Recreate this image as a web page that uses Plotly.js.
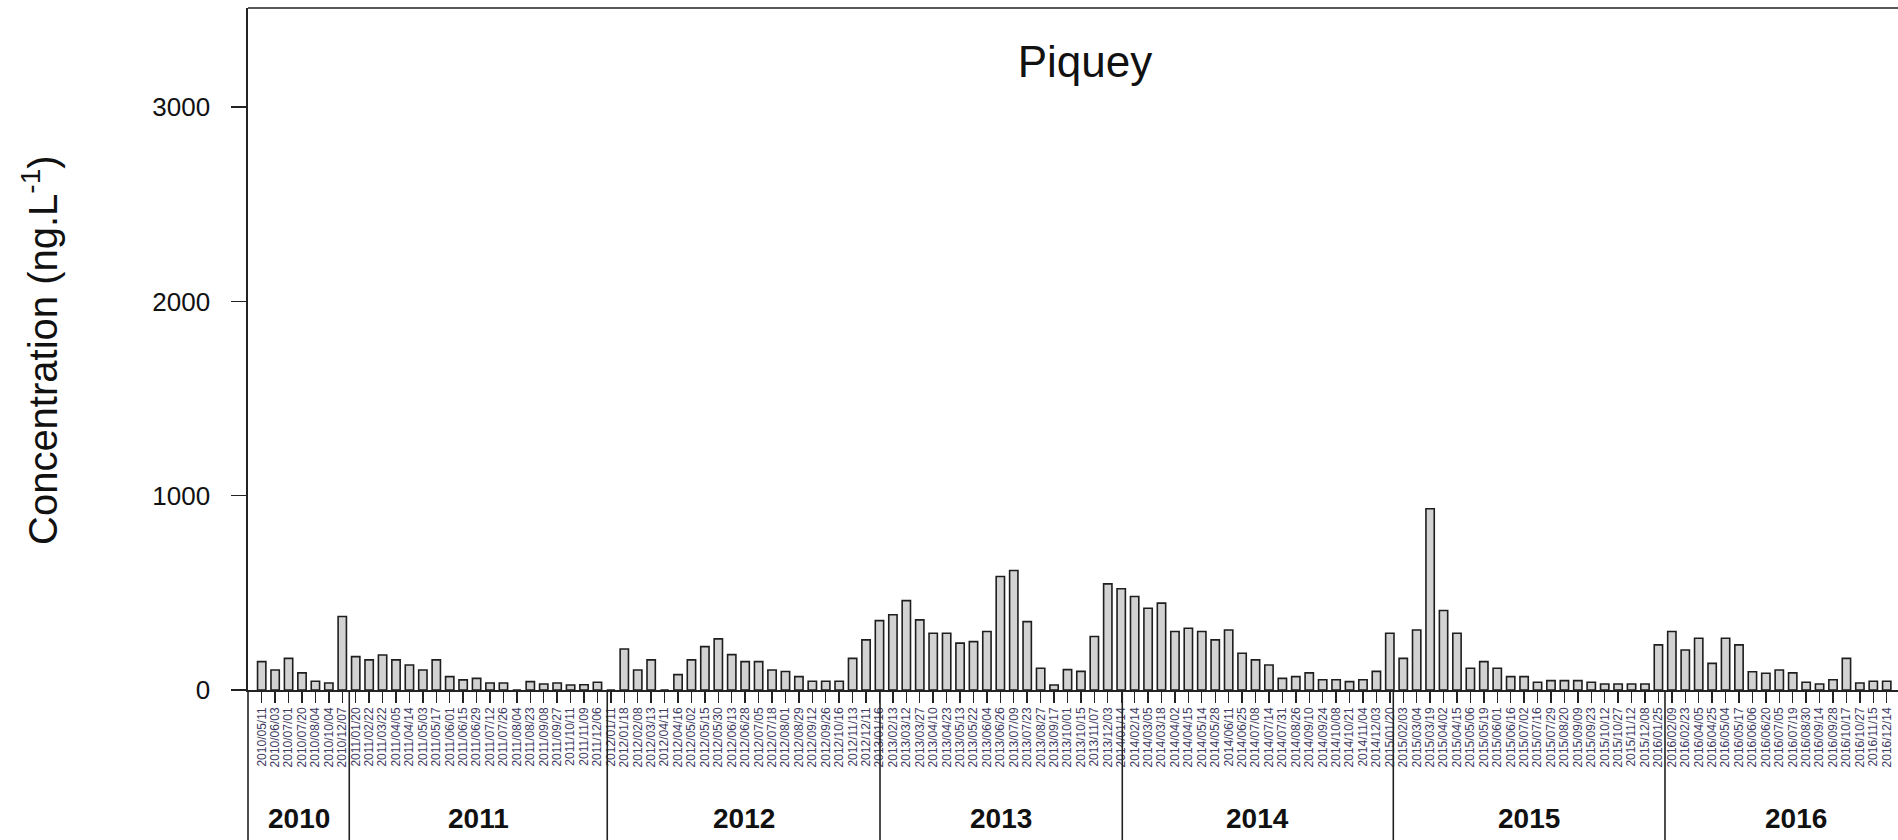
<!DOCTYPE html>
<html>
<head>
<meta charset="utf-8">
<script src="https://cdn.plot.ly/plotly-3.0.1.min.js"></script>
<style>html,body{margin:0;padding:0;background:#fff;}#chart{width:1898px;height:840px;}</style>
</head>
<body>
<div id="chart"></div>
<script>
// ---- data ----
const sampleDates = [
'2010/05/11','2010/06/03','2010/07/01','2010/07/20','2010/08/04','2010/10/04','2010/12/07',
'2011/01/20','2011/02/22','2011/03/22','2011/04/05','2011/04/14','2011/05/03','2011/05/17','2011/06/01','2011/06/15','2011/06/29','2011/07/12','2011/07/26','2011/08/04','2011/08/23','2011/09/08','2011/09/27','2011/10/11','2011/11/09','2011/12/06',
'2012/01/11','2012/01/18','2012/02/08','2012/03/13','2012/04/11','2012/04/16','2012/05/02','2012/05/15','2012/05/30','2012/06/13','2012/06/28','2012/07/05','2012/07/18','2012/08/01','2012/08/29','2012/09/12','2012/09/26','2012/10/16','2012/11/13','2012/12/11',
'2013/01/16','2013/02/13','2013/03/12','2013/03/27','2013/04/10','2013/04/23','2013/05/13','2013/05/22','2013/06/04','2013/06/26','2013/07/09','2013/07/23','2013/08/27','2013/09/17','2013/10/01','2013/10/15','2013/11/07','2013/12/03',
'2014/01/14','2014/02/14','2014/03/05','2014/03/18','2014/04/02','2014/04/15','2014/05/14','2014/05/28','2014/06/11','2014/06/25','2014/07/08','2014/07/14','2014/07/31','2014/08/26','2014/09/10','2014/09/24','2014/10/08','2014/10/21','2014/11/04','2014/12/03',
'2015/01/20','2015/02/03','2015/03/04','2015/03/19','2015/04/02','2015/04/15','2015/05/06','2015/05/19','2015/06/01','2015/06/16','2015/07/02','2015/07/16','2015/07/29','2015/08/20','2015/09/09','2015/09/23','2015/10/12','2015/10/27','2015/11/12','2015/12/08',
'2016/01/25','2016/02/09','2016/02/23','2016/04/05','2016/04/25','2016/05/04','2016/05/17','2016/06/06','2016/06/20','2016/07/05','2016/07/19','2016/08/30','2016/09/14','2016/09/28','2016/10/17','2016/10/27','2016/11/15','2016/12/14'
];
const values2010 = [146,103,163,88,45,36,378];
const values2011 = [172,155,180,155,129,103,155,69,52,60,36,36,0,43,31,36,26,27,40];
const values2012 = [0,211,103,155,0,79,155,223,263,182,146,146,103,95,69,45,45,45,163,258];
const values2013 = [357,387,460,361,292,292,241,249,301,584,615,352,112,26,105,96,275,546];
const values2014 = [521,481,421,447,301,318,301,258,309,189,155,129,60,69,88,53,53,43,53,96];
const values2015 = [292,163,309,933,409,292,112,146,112,69,69,40,48,48,48,40,31,31,31,31];
const values2016 = [232,301,206,266,137,266,232,94,86,103,88,40,31,53,163,36,45,45];
const years = ['2010','2011','2012','2013','2014','2015','2016'];
const yTicks = [0,1000,2000,3000];

const concentration = [].concat(values2010,values2011,values2012,values2013,values2014,values2015,values2016);

// ---- layout helpers ----
const xRange = [-1.02, 121.84];
const yearBounds = [-1.02, 6.52, 25.73, 46.04, 64.08, 84.26, 104.49, 124];
const bottomPaper = -150/682;
const FONT = 'Liberation Sans, Arial, sans-serif';

const shapes = [];
shapes.push({type:'line', xref:'paper', yref:'paper', x0:0, x1:1, y0:1, y1:1, line:{color:'#222', width:1.6}});
shapes.push({type:'line', xref:'paper', yref:'paper', x0:0, x1:0, y0:0, y1:bottomPaper, line:{color:'#222', width:1.6}});
for (let i = 1; i < yearBounds.length - 1; i++) {
  shapes.push({type:'line', xref:'x', yref:'paper', x0:yearBounds[i], x1:yearBounds[i], y0:0, y1:bottomPaper, line:{color:'#222', width:1.6}});
}
const annotations = years.map((yr, i) => ({
  text: '<b>' + yr + '</b>', xref:'x', yref:'paper', x:(yearBounds[i]+yearBounds[i+1])/2, y:-128/682,
  showarrow:false, xanchor:'center', yanchor:'middle',
  font:{family:FONT, size:28, color:'#111'}
}));
annotations.push({
  text:'Concentration (ng.L<sup>-1</sup>)', xref:'paper', yref:'paper',
  x:(40-248)/1650, y:(690-350)/682, textangle:-90, showarrow:false,
  xanchor:'center', yanchor:'middle',
  font:{family:FONT, size:40, color:'#111'}
});

const trace = {
  type:'bar', x:sampleDates, y:concentration, width:0.62,
  marker:{color:'#d2d2d2', line:{color:'#1e1e1e', width:1.6}},
  hoverinfo:'x+y'
};

const layout = {
  width:1898, height:840,
  margin:{l:248, r:0, t:8, b:150},
  paper_bgcolor:'#fff', plot_bgcolor:'#fff',
  showlegend:false,
  title:{text:'Piquey', x:1085/1898, xanchor:'center', y:1-62/840, yanchor:'middle',
         font:{family:FONT, size:44, color:'#111'}},
  xaxis:{type:'category', range:xRange, showline:true, linecolor:'#222', linewidth:1.6,
         tickmode:'array', tickvals:sampleDates, ticktext:sampleDates,
         ticks:'outside', ticklen:11, tickwidth:1.4, tickcolor:'#222', tickangle:-90,
         tickfont:{family:FONT, size:12, color:'#3e3a62'},
         showgrid:false, zeroline:false, fixedrange:true},
  yaxis:{range:[0,3510], tickvals:yTicks, ticktext:yTicks.map(String), showline:true, linecolor:'#222', linewidth:1.6,
         ticks:'outside', ticklen:15, tickwidth:1.4, tickcolor:'#222', ticklabelstandoff:16,
         tickfont:{family:FONT, size:26, color:'#111'},
         showgrid:false, zeroline:false, fixedrange:true},
  shapes:shapes,
  annotations:annotations,
  bargap:0.38
};

Plotly.newPlot('chart', [trace], layout, {displayModeBar:false, staticPlot:true});
</script>
</body>
</html>
